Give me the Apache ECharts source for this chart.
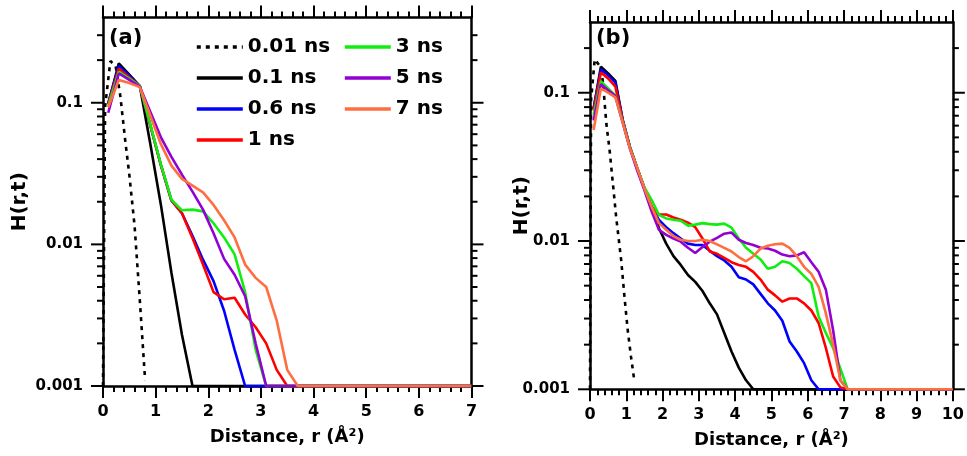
<!DOCTYPE html>
<html><head><meta charset="utf-8">
<script src="https://cdn.jsdelivr.net/npm/echarts@6.0.0/dist/echarts.min.js"></script>
<style>html,body{margin:0;padding:0;background:#fff}#c{width:967px;height:456px}</style>
</head><body><div id="c"></div>
<script>
// ---- labels / styling keys ----
const seriesNames = ['0.01 ns', '0.1 ns', '0.6 ns', '1 ns', '3 ns', '5 ns', '7 ns'];
const seriesColors = ['#000000', '#000000', '#0000ff', '#ff0000', '#10ee10', '#9400d3', '#ff6e40'];
const yTickValues = [0.001, 0.01, 0.1];
const yTickLabels = ['0.001', '0.01', '0.1'];
const xTitle = 'Distance, r (Å²)';
const yTitle = 'H(r,t)';

// ---- panel (a) ----
const xRangeA = [0, 7];
const yRangeA = [0.001, 0.4];
const rDotA = [0, 0.04, 0.14, 0.24, 0.33, 0.42, 0.5, 0.6, 0.7, 0.8];
const hDotA = [0.001, 0.094, 0.197, 0.182, 0.111, 0.055, 0.031, 0.0135, 0.004, 0.0011];
const rA = [0.1, 0.3, 0.5, 0.7, 0.9, 1.1, 1.3, 1.5, 1.7, 1.9, 2.1, 2.3, 2.5, 2.7, 2.9, 3.1, 3.3, 3.5, 3.7, 7];
const hA_0p1 = [0.098, 0.190, 0.158, 0.131, 0.051, 0.019, 0.0063, 0.0023, 0.001, 0.001, 0.001, 0.001, 0.001, 0.001, 0.001, 0.001, 0.001, 0.001, 0.001, 0.001];
const hA_0p6 = [0.1, 0.182, 0.155, 0.131, 0.069, 0.0363, 0.0204, 0.0166, 0.0115, 0.0078, 0.0055, 0.0034, 0.0018, 0.001, 0.001, 0.001, 0.001, 0.001, 0.001, 0.001];
const hA_1 = [0.098, 0.174, 0.151, 0.131, 0.069, 0.0363, 0.0204, 0.0166, 0.0111, 0.0072, 0.0046, 0.0041, 0.0042, 0.0032, 0.0026, 0.002, 0.0013, 0.001, 0.001, 0.001];
const hA_3 = [0.095, 0.165, 0.148, 0.131, 0.070, 0.0366, 0.0207, 0.0174, 0.0176, 0.0171, 0.0141, 0.0112, 0.0085, 0.0046, 0.0018, 0.001, 0.001, 0.001, 0.001, 0.001];
const hA_5 = [0.085, 0.161, 0.145, 0.130, 0.086, 0.057, 0.0415, 0.0311, 0.0236, 0.0176, 0.012, 0.0079, 0.0061, 0.0043, 0.002, 0.001, 0.001, 0.001, 0.001, 0.001];
const hA_7 = [0.093, 0.145, 0.138, 0.129, 0.081, 0.051, 0.036, 0.029, 0.026, 0.0233, 0.019, 0.0148, 0.0112, 0.0072, 0.0058, 0.005, 0.0029, 0.0013, 0.001, 0.001];

// ---- panel (b) ----
const xRangeB = [0, 10];
const yRangeB = [0.001, 0.3];
const rDotB = [0, 0.03, 0.13, 0.3, 0.36, 0.45, 0.54, 0.63, 0.72, 0.86, 0.95, 1.04, 1.13, 1.22];
const hDotB = [0.001, 0.09, 0.168, 0.148, 0.116, 0.062, 0.041, 0.0245, 0.0146, 0.0074, 0.0042, 0.0025, 0.00166, 0.00115];
const rB = [0.1, 0.3, 0.5, 0.7, 0.9, 1.1, 1.3, 1.5, 1.7, 1.9, 2.1, 2.3, 2.5, 2.7, 2.9, 3.1, 3.3, 3.5, 3.7, 3.9, 4.1, 4.3, 4.5, 4.7, 4.9, 5.1, 5.3, 5.5, 5.7, 5.9, 6.1, 6.3, 6.5, 6.7, 6.9, 7.1, 10];
const hB_0p1 = [0.078, 0.150, 0.135, 0.120, 0.066, 0.043, 0.031, 0.0227, 0.017, 0.0122, 0.0096, 0.0079, 0.0069, 0.0059, 0.0053, 0.0046, 0.0038, 0.0032, 0.0024, 0.0018, 0.0014, 0.00115, 0.001, 0.001, 0.001, 0.001, 0.001, 0.001, 0.001, 0.001, 0.001, 0.001, 0.001, 0.001, 0.001, 0.001, 0.001];
const hB_0p6 = [0.078, 0.144, 0.131, 0.117, 0.065, 0.043, 0.031, 0.0227, 0.017, 0.0139, 0.0124, 0.0113, 0.0104, 0.0096, 0.0094, 0.0094, 0.0086, 0.0079, 0.0074, 0.0067, 0.0057, 0.0055, 0.0051, 0.0044, 0.0038, 0.0034, 0.0029, 0.0021, 0.0018, 0.0015, 0.00115, 0.001, 0.001, 0.001, 0.001, 0.001, 0.001];
const hB_1 = [0.076, 0.137, 0.125, 0.110, 0.065, 0.043, 0.031, 0.0227, 0.017, 0.0151, 0.0151, 0.0144, 0.0139, 0.0133, 0.0124, 0.0104, 0.0085, 0.0082, 0.0077, 0.0072, 0.0069, 0.0067, 0.0062, 0.0055, 0.0047, 0.0043, 0.0039, 0.0041, 0.0041, 0.0038, 0.0034, 0.0028, 0.0019, 0.00122, 0.00103, 0.001, 0.001];
const hB_3 = [0.071, 0.119, 0.107, 0.096, 0.064, 0.043, 0.031, 0.023, 0.0189, 0.0150, 0.0142, 0.0139, 0.0137, 0.0127, 0.0129, 0.0132, 0.0130, 0.0129, 0.0131, 0.0123, 0.0104, 0.0090, 0.0082, 0.0075, 0.0065, 0.0067, 0.0073, 0.0071, 0.0065, 0.0058, 0.0052, 0.0031, 0.0024, 0.0019, 0.00138, 0.001, 0.001];
const hB_5 = [0.065, 0.114, 0.104, 0.095, 0.063, 0.042, 0.030, 0.022, 0.0158, 0.0119, 0.0110, 0.0104, 0.0099, 0.0090, 0.0083, 0.0091, 0.0099, 0.0105, 0.0112, 0.0114, 0.0102, 0.0097, 0.0094, 0.0090, 0.0089, 0.0086, 0.0081, 0.0079, 0.0080, 0.0084, 0.0072, 0.0062, 0.0047, 0.0025, 0.00115, 0.001, 0.001];
const hB_7 = [0.056, 0.107, 0.100, 0.093, 0.063, 0.042, 0.031, 0.0225, 0.017, 0.0132, 0.0119, 0.0108, 0.0102, 0.0100, 0.0100, 0.0102, 0.0100, 0.0095, 0.0090, 0.0085, 0.0078, 0.0073, 0.0079, 0.0089, 0.0093, 0.0095, 0.0096, 0.0090, 0.0079, 0.0067, 0.0060, 0.0049, 0.00325, 0.0020, 0.00115, 0.001, 0.001];

// ---- build ----
const FONT = 'DejaVu Sans';
const chart = echarts.init(document.getElementById('c'), null, {renderer: 'canvas'});

function pairs(xs, ys) { return xs.map((x, i) => [x, ys[i]]); }

function lineSeries(idx, xs, ys, gi) {
  return {
    type: 'line', name: seriesNames[idx], xAxisIndex: gi * 2, yAxisIndex: gi * 2,
    data: pairs(xs, ys), symbol: 'none', showSymbol: false, clip: false,
    lineStyle: {color: seriesColors[idx], width: 2.6, type: idx === 0 ? [4, 5] : 'solid'},
    itemStyle: {color: seriesColors[idx]}, z: 3 + idx, animation: false, silent: true
  };
}

function logTicks(range) {
  const out = [];
  for (let e = Math.round(Math.log10(range[0])); Math.pow(10, e) <= range[1] * 1.0001; e++) {
    for (let m = 1; m <= 9; m++) {
      const v = m * Math.pow(10, e);
      if (v >= range[0] * 0.9999 && v < range[1] * 0.999) out.push([v, m === 1 ? 1 : 0]);
    }
  }
  return out;
}

function tickSeries(gi, xr, yr) {
  return {
    type: 'custom', xAxisIndex: gi * 2, yAxisIndex: gi * 2, silent: true, clip: false, z: 10,
    animation: false,
    data: logTicks(yr).map(t => [xr[0], t[0], t[1]]),
    encode: {x: 0, y: 1},
    renderItem(params, api) {
      const v = api.value(1), major = api.value(2);
      const pL = api.coord([xr[0], v]), pR = api.coord([xr[1], v]);
      const len = major ? 12 : 6;
      const st = {stroke: '#000', lineWidth: 2};
      return {type: 'group', children: [
        {type: 'line', shape: {x1: pL[0] - len, y1: pL[1], x2: pL[0], y2: pL[1]}, style: st},
        {type: 'line', shape: {x1: pR[0], y1: pR[1], x2: pR[0] + len, y2: pR[1]}, style: st}
      ]};
    }
  };
}

function yFmt(v) {
  for (let i = 0; i < yTickValues.length; i++) {
    if (Math.abs(Math.log10(v) - Math.log10(yTickValues[i])) < 1e-6) return yTickLabels[i];
  }
  return '';
}

const axisLine = {show: true, onZero: false, lineStyle: {color: '#000', width: 2.5}};
function xAxes(gi, xr) {
  const base = {
    type: 'value', gridIndex: gi, min: xr[0], max: xr[1], interval: 1,
    axisLine: axisLine, splitLine: {show: false},
    axisTick: {show: true, inside: false, length: 12, lineStyle: {color: '#000', width: 2}},
    minorTick: {show: true, splitNumber: 5, length: 6, lineStyle: {color: '#000', width: 2}},
    minorSplitLine: {show: false}
  };
  return [
    Object.assign({}, base, {position: 'bottom', name: xTitle, nameLocation: 'middle', nameGap: 42, nameMoveOverlap: false,
      nameTextStyle: {fontFamily: FONT, fontWeight: 'bold', fontSize: 18, color: '#000'},
      axisLabel: {show: true, margin: 18, fontFamily: FONT, fontWeight: 'bold', fontSize: 16, color: '#000'}}),
    Object.assign({}, base, {position: 'top', axisLabel: {show: false}})
  ];
}
function yAxes(gi, yr, nameGap) {
  const base = {
    type: 'log', logBase: 10, gridIndex: gi, min: yr[0], max: yr[1],
    axisLine: axisLine, splitLine: {show: false}, axisTick: {show: false}, minorTick: {show: false}
  };
  return [
    Object.assign({}, base, {position: 'left', name: yTitle, nameLocation: 'middle', nameGap: nameGap, nameRotate: 90,
      nameMoveOverlap: false,
      nameTextStyle: {fontFamily: FONT, fontWeight: 'bold', fontSize: 20, color: '#000'},
      axisLabel: {show: true, margin: 20, formatter: yFmt, fontFamily: FONT, fontWeight: 'bold', fontSize: 15, color: '#000',
        showMinLabel: true, showMaxLabel: false}}),
    Object.assign({}, base, {position: 'right', axisLabel: {show: false}})
  ];
}

const legendText = {fontFamily: FONT, fontWeight: 'bold', fontSize: 20, color: '#000', lineHeight: 20};
const legendBase = {orient: 'vertical', top: 37, itemWidth: 46, itemHeight: 14, itemGap: 11, padding: 0,
  textStyle: legendText, lineStyle: {width: 3.6}, itemStyle: {opacity: 0, borderWidth: 0}, selectedMode: false};

const option = {
  backgroundColor: '#fff',
  animation: false,
  grid: [
    {left: 103, top: 17.5, width: 368.5, height: 368.5, containLabel: false},
    {left: 590, top: 22, width: 369, height: 367.3, containLabel: false}
  ],
  title: [
    {text: '(a)', left: 109, top: 28, padding: 0, textStyle: {fontFamily: FONT, fontWeight: 'bold', fontSize: 21, color: '#000'}},
    {text: '(b)', left: 596, top: 28, padding: 0, textStyle: {fontFamily: FONT, fontWeight: 'bold', fontSize: 21, color: '#000'}}
  ],
  legend: [
    Object.assign({}, legendBase, {left: 195, data: seriesNames.slice(0, 4)}),
    Object.assign({}, legendBase, {left: 343, data: seriesNames.slice(4)})
  ],
  xAxis: [].concat(xAxes(0, xRangeA), xAxes(1, xRangeB)),
  yAxis: [].concat(yAxes(0, yRangeA, 73), yAxes(1, yRangeB, 58)),
  series: [
    lineSeries(0, rDotA, hDotA, 0),
    lineSeries(1, rA, hA_0p1, 0),
    lineSeries(2, rA, hA_0p6, 0),
    lineSeries(3, rA, hA_1, 0),
    lineSeries(4, rA, hA_3, 0),
    lineSeries(5, rA, hA_5, 0),
    lineSeries(6, rA, hA_7, 0),
    lineSeries(0, rDotB, hDotB, 1),
    lineSeries(1, rB, hB_0p1, 1),
    lineSeries(2, rB, hB_0p6, 1),
    lineSeries(3, rB, hB_1, 1),
    lineSeries(4, rB, hB_3, 1),
    lineSeries(5, rB, hB_5, 1),
    lineSeries(6, rB, hB_7, 1),
    tickSeries(0, xRangeA, yRangeA),
    tickSeries(1, xRangeB, yRangeB)
  ]
};
chart.setOption(option);
</script>
</body></html>
